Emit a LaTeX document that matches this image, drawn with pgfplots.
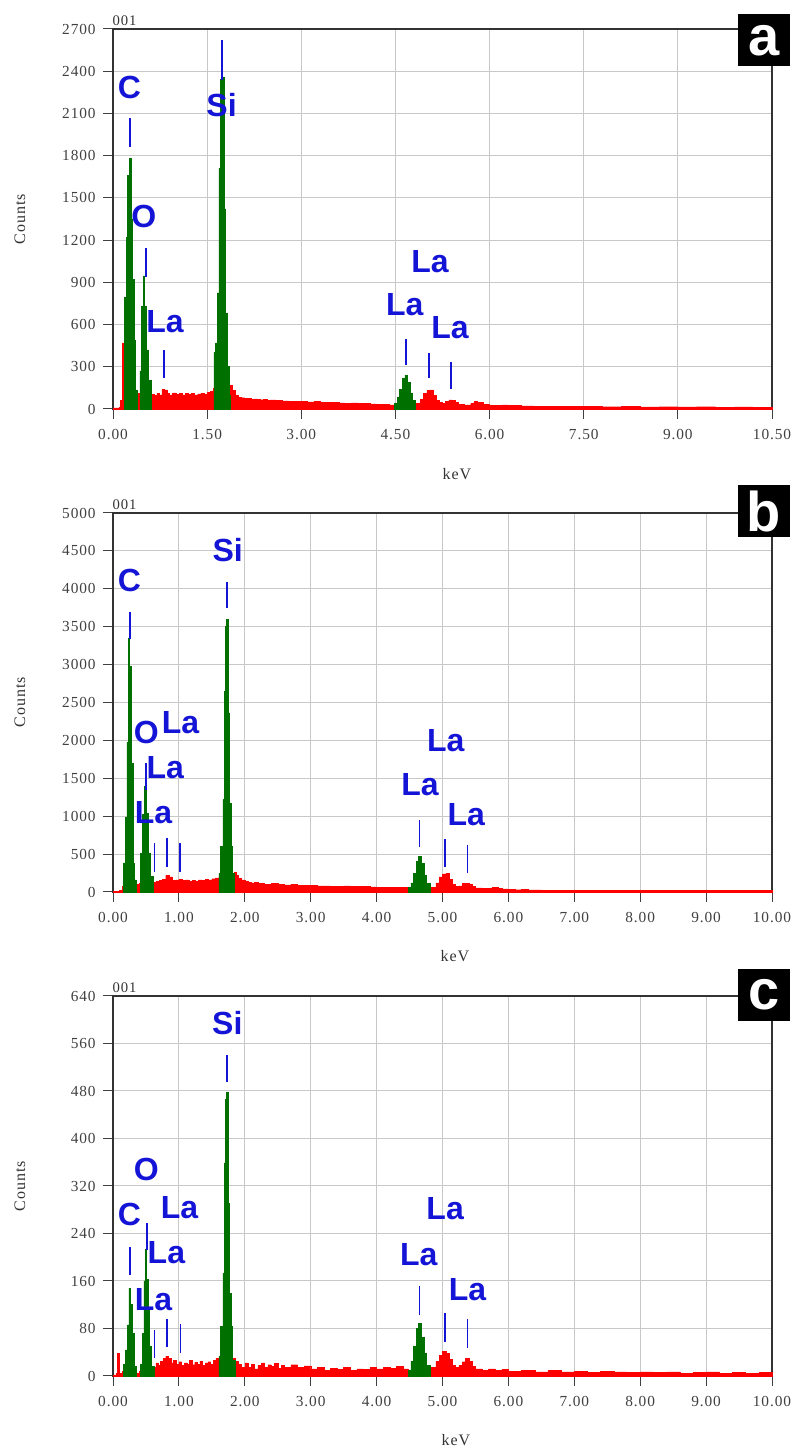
\documentclass[border=0pt]{standalone}
\usepackage{fontspec}
\setmainfont{Liberation Serif}
\newfontfamily\labfont{Liberation Sans}
\usepackage{pgfplots}
\pgfplotsset{compat=1.18}
\definecolor{spred}{RGB}{255,0,0}
\definecolor{spgreen}{RGB}{0,112,0}
\definecolor{elblue}{RGB}{20,20,215}
\definecolor{gridgray}{RGB}{200,200,200}
\pgfplotsset{
  eds/.style={
    scale only axis, width=494.25pt, anchor=south west,
    clip=false, axis on top=false,
    grid=major,
    major grid style={draw=gridgray, line width=0.75pt},
    axis line style={draw=black!80, line width=1pt},
    tick align=outside, major tick length=7.5pt,
    tick style={draw=black!75, line width=0.75pt},
    xtick pos=bottom, ytick pos=left,
    scaled ticks=false,
    tick label style={font=\fontsize{11.5}{12}\selectfont\addfontfeature{LetterSpace=6}, text=black!75},
    /pgf/number format/assume math mode=true,
    yticklabel style={/pgf/number format/1000 sep={}, xshift=-2pt},
    xticklabel style={/pgf/number format/fixed, /pgf/number format/fixed zerofill, /pgf/number format/precision=2, yshift=-4.5pt},
    ymin=0, xmin=0,
  },
  redfill/.style={const plot, fill=spred, draw=spred, line width=0.3pt},
  greenfill/.style={const plot, fill=spgreen, draw=spgreen, line width=0.5pt},
}
\tikzset{
  ellab/.style={font=\labfont\bfseries\fontsize{24}{24}\selectfont, text=elblue, inner sep=0pt},
  elline/.style={draw=elblue, line width=1.3pt},
  side/.style={font=\fontsize{12}{13}\selectfont\addfontfeature{LetterSpace=6}, text=black!80},
  box/.style={fill=black, text=white, minimum width=39pt, minimum height=39pt, inner sep=0pt, font=\labfont\bfseries\fontsize{42}{42}\selectfont},
}
\begin{document}
\begin{tikzpicture}
\useasboundingbox (0,0) rectangle (595.5pt,1087.5pt);

% ---------------- panel a ----------------
\begin{axis}[eds, at={(84.75pt,780.75pt)}, height=285pt,
  xmax=10.5, ymax=2700,
  xtick={0,1.5,3,4.5,6,7.5,9,10.5}, ytick={0,300,...,2700}]
\addplot[redfill] coordinates {
(0.00,8)(0.10,10)(0.12,60)(0.15,470)(0.185,90)(0.38,90)(0.40,110)(0.43,100)
(0.615,105)(0.65,95)(0.70,110)(0.74,100)(0.78,140)(0.82,135)(0.86,110)(0.90,100)
(0.95,115)(1.00,105)(1.05,110)(1.10,100)(1.15,112)(1.20,104)(1.25,110)(1.30,100)
(1.35,108)(1.40,112)(1.45,105)(1.50,118)(1.55,125)(1.60,150)(1.875,170)(1.90,130)
(1.95,95)(2.00,85)(2.05,80)(2.10,75)(2.15,78)(2.20,70)(2.25,72)(2.30,68)(2.35,66)
(2.40,70)(2.45,62)(2.50,64)(2.60,60)(2.70,58)(2.80,55)(2.90,56)(3.00,52)(3.10,50)
(3.20,53)(3.30,48)(3.40,46)(3.50,47)(3.60,44)(3.70,42)(3.80,44)(3.90,40)(4.00,38)
(4.10,36)(4.20,35)(4.30,32)(4.40,30)(4.49,30)(4.81,40)(4.90,70)(4.95,110)(5.00,130)
(5.05,135)(5.10,95)(5.15,60)(5.20,45)(5.25,40)(5.30,55)(5.35,65)(5.40,60)(5.45,45)
(5.50,35)(5.60,30)(5.70,40)(5.75,52)(5.80,45)(5.90,32)(6.00,28)(6.10,26)(6.20,30)
(6.30,24)(6.40,25)(6.50,22)(6.70,20)(6.90,18)(7.10,20)(7.30,17)(7.50,18)(7.80,16)
(8.10,17)(8.40,15)(8.70,16)(9.00,15)(9.30,16)(9.60,14)(9.90,15)(10.20,14)(10.50,14)
} \closedcycle;
\addplot[greenfill] coordinates {(0.185,790)(0.21,1220)(0.235,1660)(0.26,1780)(0.285,1350)(0.31,920)(0.335,490)(0.36,130)(0.38,0)} \closedcycle;
\addplot[greenfill] coordinates {(0.43,270)(0.455,730)(0.48,945)(0.505,730)(0.53,420)(0.555,205)(0.615,0)} \closedcycle;
\addplot[greenfill] coordinates {(1.607,400)(1.634,470)(1.661,825)(1.688,1710)(1.714,2340)(1.741,2355)(1.768,1420)(1.795,680)(1.821,300)(1.848,100)(1.875,0)} \closedcycle;
\addplot[greenfill] coordinates {(4.49,40)(4.53,80)(4.57,140)(4.61,215)(4.65,240)(4.69,190)(4.73,110)(4.77,60)(4.81,0)} \closedcycle;
\draw[elline] (0.268,1862) -- (0.268,2068);
\draw[elline] (1.74,2340) -- (1.74,2620);
\draw[elline] (0.52,938) -- (0.52,1144);
\draw[elline] (0.814,220) -- (0.814,419);
\draw[elline] (4.67,313) -- (4.67,495);
\draw[elline] (5.04,218) -- (5.04,400);
\draw[elline] (5.38,140) -- (5.38,336);
\node[ellab] at (0.26,2286) {C};
\node[ellab] at (1.73,2160) {Si};
\node[ellab] at (0.49,1367) {O};
\node[ellab] at (0.83,620) {La};
\node[ellab] at (4.65,739) {La};
\node[ellab] at (5.05,1045) {La};
\node[ellab] at (5.37,576) {La};
\end{axis}

% ---------------- panel b ----------------
\begin{axis}[eds, at={(84.75pt,418.5pt)}, height=284.25pt,
  xmax=10, ymax=5000,
  xtick={0,1,...,10}, ytick={0,500,...,5000}]
\addplot[redfill] coordinates {
(0.00,5)(0.10,20)(0.14,70)(0.16,100)(0.355,100)(0.38,95)(0.40,110)(0.414,110)
(0.616,130)(0.65,140)(0.70,150)(0.75,170)(0.80,220)(0.85,200)(0.90,150)(0.95,160)
(1.00,170)(1.05,150)(1.10,160)(1.15,140)(1.20,155)(1.25,145)(1.30,160)(1.35,150)
(1.40,165)(1.45,160)(1.50,175)(1.55,185)(1.606,200)(1.843,260)(1.87,220)(1.90,180)
(1.95,160)(2.00,140)(2.05,130)(2.10,120)(2.15,125)(2.20,110)(2.25,115)(2.30,105)
(2.40,110)(2.50,100)(2.60,95)(2.70,100)(2.80,90)(2.90,88)(3.00,85)(3.10,80)(3.20,82)
(3.30,78)(3.40,75)(3.50,80)(3.60,72)(3.70,70)(3.80,75)(3.90,68)(4.00,65)(4.10,62)
(4.20,60)(4.30,65)(4.40,58)(4.48,55)(4.81,60)(4.90,120)(4.95,200)(5.00,240)(5.05,250)
(5.10,170)(5.15,100)(5.20,75)(5.25,80)(5.30,110)(5.35,115)(5.40,100)(5.45,70)(5.50,55)
(5.60,45)(5.70,50)(5.75,62)(5.80,58)(5.85,48)(5.90,40)(6.00,35)(6.10,30)(6.20,32)
(6.30,28)(6.50,26)(6.70,24)(6.90,25)(7.10,22)(7.30,21)(7.50,22)(7.80,20)(8.10,21)
(8.40,19)(8.70,20)(9.00,18)(9.30,19)(9.60,18)(10.00,18)
} \closedcycle;
\addplot[greenfill] coordinates {(0.162,383)(0.187,980)(0.212,1970)(0.232,3340)(0.253,2980)(0.278,1700)(0.303,380)(0.328,160)(0.354,0)} \closedcycle;
\addplot[greenfill] coordinates {(0.414,514)(0.444,1020)(0.475,1394)(0.505,1040)(0.535,514)(0.566,207)(0.616,0)} \closedcycle;
\addplot[greenfill] coordinates {(1.606,250)(1.636,600)(1.667,1220)(1.687,2650)(1.707,3500)(1.727,3600)(1.747,2360)(1.768,1170)(1.793,600)(1.818,250)(1.843,0)} \closedcycle;
\addplot[greenfill] coordinates {(4.48,60)(4.52,120)(4.56,250)(4.60,400)(4.64,466)(4.68,380)(4.72,220)(4.76,110)(4.81,0)} \closedcycle;
\draw[elline] (0.263,3334) -- (0.263,3698);
\draw[elline] (1.732,3743) -- (1.732,4094);
\draw[elline] (0.505,1350) -- (0.505,1700);
\draw[elline] (0.631,268) -- (0.631,642);
\draw[elline] (0.818,334) -- (0.818,708);
\draw[elline] (1.02,268) -- (1.02,642);
\draw[elline] (4.65,590) -- (4.65,950);
\draw[elline] (5.04,326) -- (5.04,695);
\draw[elline] (5.38,247) -- (5.38,620);
\node[ellab] at (0.25,4116) {C};
\node[ellab] at (1.74,4512) {Si};
\node[ellab] at (0.505,2098) {O};
\node[ellab] at (1.025,2230) {La};
\node[ellab] at (0.793,1636) {La};
\node[ellab] at (0.616,1042) {La};
\node[ellab] at (4.66,1412) {La};
\node[ellab] at (5.05,1992) {La};
\node[ellab] at (5.36,1016) {La};
\end{axis}

% ---------------- panel c ----------------
\begin{axis}[eds, at={(84.75pt,55.5pt)}, height=285pt,
  xmax=10, ymax=640,
  xtick={0,1,...,10}, ytick={0,80,...,640}]
\addplot[redfill] coordinates {
(0.00,2)(0.05,4)(0.07,38)(0.09,5)(0.14,8)(0.16,10)(0.354,5)(0.40,8)(0.414,8)
(0.621,15)(0.65,22)(0.68,18)(0.72,25)(0.76,30)(0.80,33)(0.84,30)(0.88,22)(0.92,26)
(0.96,20)(1.00,24)(1.04,18)(1.08,22)(1.12,20)(1.16,26)(1.20,19)(1.24,23)(1.28,20)
(1.32,25)(1.36,18)(1.40,22)(1.44,24)(1.48,20)(1.52,26)(1.56,30)(1.606,30)(1.859,25)
(1.90,20)(1.95,15)(2.00,22)(2.05,14)(2.10,20)(2.15,12)(2.20,18)(2.25,22)(2.30,14)
(2.35,19)(2.40,16)(2.45,21)(2.50,13)(2.55,18)(2.60,15)(2.70,19)(2.80,14)(2.90,17)
(3.00,12)(3.10,15)(3.20,10)(3.30,13)(3.40,11)(3.50,14)(3.60,10)(3.70,12)(3.80,11)
(3.90,14)(4.00,12)(4.10,15)(4.20,13)(4.30,16)(4.40,12)(4.48,10)(4.81,15)(4.90,25)
(4.95,35)(5.00,41)(5.05,38)(5.10,28)(5.15,18)(5.20,15)(5.25,18)(5.30,24)(5.35,30)
(5.40,25)(5.45,16)(5.50,12)(5.60,10)(5.70,12)(5.80,9)(5.90,11)(6.00,8)(6.20,10)
(6.40,7)(6.60,9)(6.80,7)(7.00,8)(7.20,6)(7.40,8)(7.60,7)(7.80,6)(8.00,7)(8.20,6)
(8.40,7)(8.60,5)(8.80,6)(9.00,7)(9.20,5)(9.40,6)(9.60,5)(9.80,6)(10.00,5)
} \closedcycle;
\addplot[greenfill] coordinates {(0.162,19)(0.192,44)(0.217,86)(0.242,148)(0.268,120)(0.293,72)(0.318,16)(0.354,0)} \closedcycle;
\addplot[greenfill] coordinates {(0.414,19)(0.444,72)(0.470,160)(0.490,213)(0.510,162)(0.530,111)(0.550,50)(0.581,16)(0.621,0)} \closedcycle;
\addplot[greenfill] coordinates {(1.606,33)(1.636,83)(1.667,173)(1.687,359)(1.707,466)(1.727,477)(1.747,291)(1.768,139)(1.793,83)(1.818,27)(1.859,0)} \closedcycle;
\addplot[greenfill] coordinates {(4.48,10)(4.52,25)(4.56,50)(4.60,80)(4.64,89)(4.68,65)(4.72,38)(4.76,18)(4.81,0)} \closedcycle;
\draw[elline] (0.263,170) -- (0.263,217);
\draw[elline] (0.515,212) -- (0.515,257);
\draw[elline] (1.732,495) -- (1.732,541);
\draw[elline] (0.631,30) -- (0.631,78);
\draw[elline] (0.818,48) -- (0.818,96);
\draw[elline] (1.025,39) -- (1.025,88);
\draw[elline] (4.65,103) -- (4.65,151);
\draw[elline] (5.04,58) -- (5.04,106);
\draw[elline] (5.38,47) -- (5.38,96);
\node[ellab] at (0.25,272) {C};
\node[ellab] at (0.505,348) {O};
\node[ellab] at (1.735,595) {Si};
\node[ellab] at (1.01,283) {La};
\node[ellab] at (0.81,207) {La};
\node[ellab] at (0.616,128) {La};
\node[ellab] at (4.64,204) {La};
\node[ellab] at (5.04,282) {La};
\node[ellab] at (5.38,145) {La};
\end{axis}

% ---------------- surrounding texts ----------------
\node[side, rotate=90] at (15pt,{(1450-219)*0.75pt}) {Counts};
\node[side, rotate=90] at (15pt,{(1450-702)*0.75pt}) {Counts};
\node[side, rotate=90] at (15pt,{(1450-1186)*0.75pt}) {Counts};
\node[side] at ({457*0.75pt},{(1450-474)*0.75pt}) {keV};
\node[side] at ({455*0.75pt},{(1450-956)*0.75pt}) {keV};
\node[side] at ({456*0.75pt},{(1450-1440)*0.75pt}) {keV};
\node[side, font=\fontsize{11}{12}\selectfont\addfontfeature{LetterSpace=6}] at ({124.5*0.75pt},{(1450-21)*0.75pt}) {001};
\node[side, font=\fontsize{11}{12}\selectfont\addfontfeature{LetterSpace=6}] at ({124.5*0.75pt},{(1450-504.5)*0.75pt}) {001};
\node[side, font=\fontsize{11}{12}\selectfont\addfontfeature{LetterSpace=6}] at ({124.5*0.75pt},{(1450-988)*0.75pt}) {001};
\node[box] at (573pt,{(1450-40.5)*0.75pt}) {a};
\node[box] at (573pt,{(1450-511)*0.75pt}) {b};
\node[box] at (573pt,{(1450-995)*0.75pt}) {c};
\end{tikzpicture}
\end{document}
